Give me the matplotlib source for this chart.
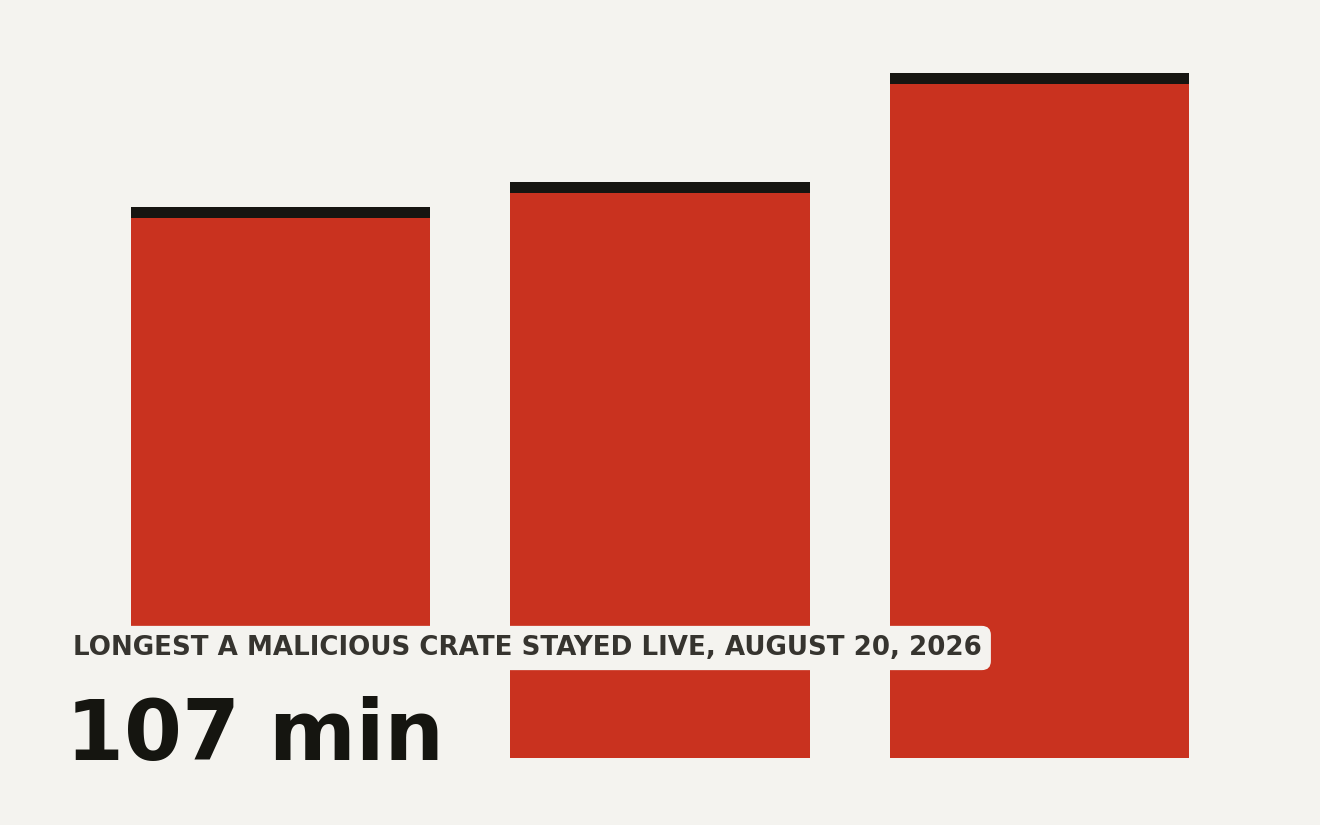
import matplotlib.pyplot as plt
from matplotlib.patches import Rectangle

bg = "#f4f3ef"
red = "#c9321f"
cap = "#161511"

days = ["Aug 18", "Aug 19", "Aug 20"]
minutes = [86, 90, 107]
label = "LONGEST A MALICIOUS CRATE STAYED LIVE, AUGUST 20, 2026"
headline = "107 min"

fig = plt.figure(figsize=(13.2, 8.25), dpi=100)
fig.patch.set_facecolor(bg)
ax = fig.add_axes([0, 0, 1, 1])
ax.set_facecolor(bg)

x = range(len(days))
ax.bar(x, minutes, width=0.788, color=red, zorder=2)
cap_h = 1.72
ax.bar(x, [cap_h] * len(minutes), bottom=[m - cap_h for m in minutes],
       width=0.788, color=cap, zorder=3)

ax.set_xlim(-0.739, 2.739)
ax.set_ylim(-10.47, 118.4)
ax.axis("off")

# backing panel behind the headline text
fig.patches.append(Rectangle((40 / 1320, 1 - 800 / 825), 430 / 1320, 131 / 825,
                             transform=fig.transFigure, fc=bg, ec="none",
                             zorder=4))

fig.text(73 / 1320, 1 - 655 / 825, label, fontsize=18.8, fontweight="bold",
         color="#36342f", ha="left", va="baseline", zorder=5,
         bbox=dict(boxstyle="round,pad=0.35", fc=bg, ec="none"))
fig.text(66 / 1320, 1 - 760 / 825, headline, fontsize=60, fontweight="bold",
         color="#151510", ha="left", va="baseline", zorder=5)

fig.savefig("out.png", dpi=100, facecolor=bg)
